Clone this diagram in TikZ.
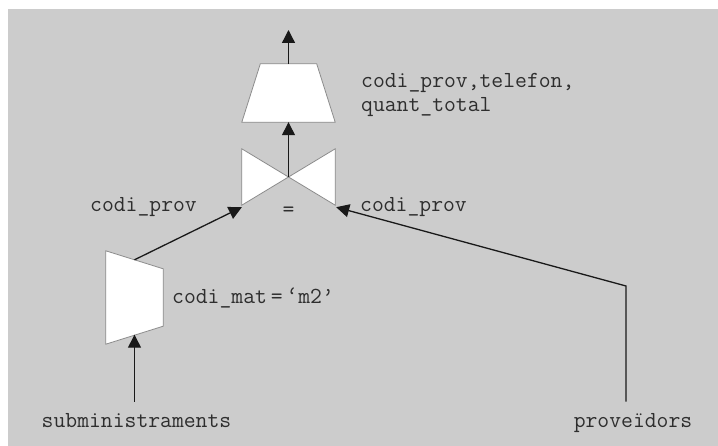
\documentclass[tikz,border=0pt]{standalone}
\usepackage{fontspec}
\usetikzlibrary{arrows.meta,positioning,calc}

\definecolor{panel}{HTML}{CCCCCC}
\definecolor{ink}{HTML}{2E2E2E}
\definecolor{rim}{HTML}{8C8C8C}

\begin{document}
\begin{tikzpicture}[x=1pt,y=-1pt,
    opbox/.style={minimum width=93pt,minimum height=58pt,inner sep=0pt},
    outline/.style={draw=rim,fill=white,line width=0.8pt,line join=miter},
    flow/.style={-{Triangle[length=13pt,width=13pt]},line width=1.3pt,draw=black!90},
    oplabel/.style={font=\ttfamily\fontsize{23}{24}\selectfont,text=ink,inner sep=0pt},
    source/.style={oplabel,inner ysep=12pt,anchor=base}]

	\useasboundingbox (0,0) rectangle (718,446);
	\fill[panel] (8,9) rectangle (718,446);

	% operator boxes
	\node[opbox] (proj) at (288.5,93) {};
	\node[opbox,minimum height=56pt] (join) at (288.5,177) {};
	\node[opbox,minimum width=57pt,minimum height=93pt] (sel) at (134.5,297.5) {};

	\draw[outline] (proj.south west) -- (proj.south east)
		-- ($(proj.north east)+(-18.5,0)$) -- ($(proj.north west)+(18.5,0)$) -- cycle;
	\draw[outline] (join.north west) -- (join.center) -- (join.south west) -- cycle;
	\draw[outline] (join.north east) -- (join.center) -- (join.south east) -- cycle;
	\draw[outline] (sel.north west) -- ($(sel.north east)+(0,18)$)
		-- ($(sel.south east)+(0,-18)$) -- (sel.south west) -- cycle;

	% relations
	\node[source] (sub) at (136.5,428) {subministraments};
	\node[source] (prov) at (633,428) {proveïdors};

	\coordinate (selin) at ($(sel.south)+(0,-9.5)$);
	\coordinate (selout) at ($(sel.north)+(0,9)$);
	\coordinate (joinl) at ($(join.south west)+(0,2)$);
	\coordinate (joinr) at ($(join.south east)+(1,2)$);
	\coordinate (bend) at (626,286);
	\coordinate (result) at (288.5,30);

	\draw[flow] (sub.north -| selin) -- (selin);
	\draw[flow] (selout) -- (joinl);
	\draw[flow] (prov.north -| bend) -- (bend) -- (joinr);
	\draw[flow] (join.center) -- (proj.south);
	\draw[flow] (proj.north) -- (result);

	% conditions and attributes
	\node[oplabel,below=2pt of join] (eq) {=};
	\node[oplabel,anchor=west,align=left] (attrs) at (361,95) {codi\_prov,telefon,\\quant\_total};
	\node[oplabel,anchor=west] (keyl) at (90,207) {codi\_prov};
	\node[oplabel,anchor=west] (keyr) at (360,207) {codi\_prov};
	\node[oplabel,anchor=west] (cond) at (172,298) {codi\_mat\,=\,‘m2’};

\end{tikzpicture}
\end{document}
